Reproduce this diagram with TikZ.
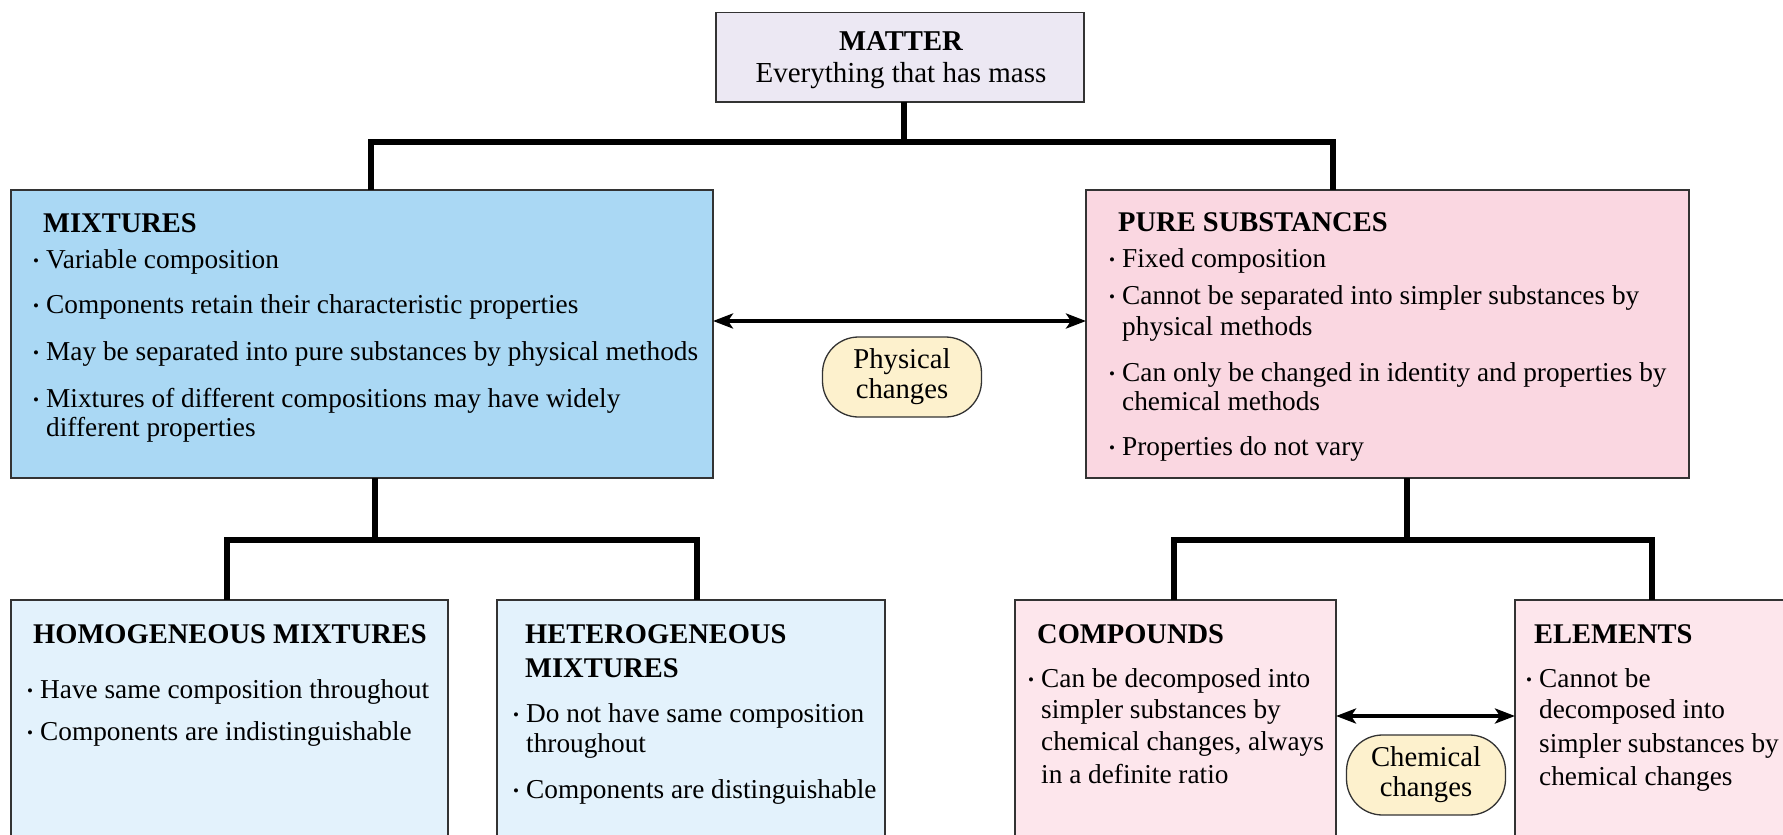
\documentclass[tikz,border=0pt]{standalone}
\usepackage{fontspec}
\setmainfont{Liberation Serif}
\usetikzlibrary{arrows.meta}
\definecolor{matterfill}{HTML}{ECE8F3}
\definecolor{mixfill}{HTML}{AAD8F4}
\definecolor{purefill}{HTML}{FAD7E1}
\definecolor{mixlight}{HTML}{E3F2FC}
\definecolor{purelight}{HTML}{FDE6EC}
\definecolor{ovalfill}{HTML}{FDF1CD}
\definecolor{boxborder}{HTML}{333333}
\tikzset{
  box/.style={draw=boxborder, line width=1.8pt, inner sep=0pt, outer sep=0pt},
  conn/.style={draw=black, line width=5.5pt, line join=miter},
  twoway/.style={draw=black, line width=4.5pt,
    {Stealth[length=20pt,width=15pt,inset=5pt]}-{Stealth[length=20pt,width=15pt,inset=5pt]}},
  oval/.style={draw=boxborder, line width=1.3pt, fill=ovalfill, rounded corners=36pt,
    minimum width=159pt, minimum height=80pt, align=center, inner sep=0pt,
    font=\fontsize{28.7}{30}\selectfont},
  txt/.style={inner sep=0pt, anchor=base west, font=\fontsize{27.3}{31}\selectfont},
  hd/.style={inner sep=0pt, anchor=base west, font=\fontsize{28.5}{32}\selectfont\bfseries},
}
\newcommand\bul{\makebox[13pt][l]{\fontsize{17}{17}\selectfont\raisebox{2pt}{•}}}
\newcommand\tl[4]{\node[txt] (#1) at (#2,#3) {#4};}
\newcommand\hl[4]{\node[hd] (#1) at (#2,#3) {#4};}
\begin{document}
\begin{tikzpicture}[x=1pt,y=-1pt]
\useasboundingbox (0,0) rectangle (1783,835);
\clip (0,0) rectangle (1783,835);

% boxes
\node[box, fill=matterfill, minimum width=368pt, minimum height=89.5pt] (matter) at (900,57.25) {};
\node[box, fill=mixfill, minimum width=702pt, minimum height=288pt] (mix) at (362,334) {};
\node[box, fill=purefill, minimum width=603pt, minimum height=288pt] (pure) at (1387.5,334) {};
\node[box, fill=mixlight, minimum width=437pt, minimum height=250pt] (homo) at (229.5,725) {};
\node[box, fill=mixlight, minimum width=388pt, minimum height=250pt] (hetero) at (691,725) {};
\node[box, fill=purelight, minimum width=321pt, minimum height=250pt] (comp) at (1175.5,725) {};
\node[box, fill=purelight, minimum width=285pt, minimum height=250pt] (elem) at (1657.5,725) {};

% tree connectors
\coordinate (tM) at (904,142);
\coordinate (tL) at (371,142);
\coordinate (tR) at (1333,142);
\draw[conn] (matter.south -| tM) -- (tM);
\draw[conn] (mix.north -| tL) -- (tL) -- (tR) -- (pure.north -| tR);
\coordinate (mM) at (375,540);
\coordinate (mL) at (227,540);
\coordinate (mR) at (697,540);
\draw[conn] (mix.south -| mM) -- (mM);
\draw[conn] (homo.north -| mL) -- (mL) -- (mR) -- (hetero.north -| mR);
\coordinate (pM) at (1407,540);
\coordinate (pL) at (1174,540);
\coordinate (pR) at (1652,540);
\draw[conn] (pure.south -| pM) -- (pM);
\draw[conn] (comp.north -| pL) -- (pL) -- (pR) -- (elem.north -| pR);

% two-way arrows
\coordinate (py) at (900,321);
\coordinate (cy) at (1426,716);
\draw[twoway] (py -| mix.east) -- (py -| pure.west);
\draw[twoway] (cy -| comp.east) -- (cy -| elem.west);

% change labels
\node[oval] (phys) at (902,377) {Physical\\changes};
\node[oval] (chem) at (1426,775) {Chemical\\changes};

% MATTER
\node[inner sep=0pt, anchor=base, font=\fontsize{28.7}{32}\selectfont\bfseries] (mt1) at (901,50) {MATTER};
\node[inner sep=0pt, anchor=base, font=\fontsize{29}{32}\selectfont] (mt2) at (901,82) {Everything that has mass};

% MIXTURES
\hl{mxh}{43}{232}{MIXTURES}
\tl{mx1}{33}{268}{\bul Variable composition}
\tl{mx2}{33}{313}{\bul Components retain their characteristic properties}
\tl{mx3}{33}{360}{\bul May be separated into pure substances by physical methods}
\tl{mx4}{33}{407}{\bul Mixtures of different compositions may have widely}
\tl{mx5}{46}{436}{different properties}

% PURE SUBSTANCES
\hl{psh}{1118}{231}{PURE SUBSTANCES}
\tl{ps1}{1109}{267}{\bul Fixed composition}
\tl{ps2}{1109}{304}{\bul Cannot be separated into simpler substances by}
\tl{ps3}{1122}{335}{physical methods}
\tl{ps4}{1109}{381}{\bul Can only be changed in identity and properties by}
\tl{ps5}{1122}{410}{chemical methods}
\tl{ps6}{1109}{455}{\bul Properties do not vary}

% HOMOGENEOUS
\hl{hoh}{33}{643}{HOMOGENEOUS MIXTURES}
\tl{ho1}{27}{698}{\bul Have same composition throughout}
\tl{ho2}{27}{740}{\bul Components are indistinguishable}

% HETEROGENEOUS
\hl{heh1}{525}{643}{HETEROGENEOUS}
\hl{heh2}{525}{677}{MIXTURES}
\tl{he1}{513}{722}{\bul Do not have same composition}
\tl{he2}{526}{752}{throughout}
\tl{he3}{513}{798}{\bul Components are distinguishable}

% COMPOUNDS
\hl{coh}{1037}{643}{COMPOUNDS}
\tl{co1}{1028}{687}{\bul Can be decomposed into}
\tl{co2}{1041}{718}{simpler substances by}
\tl{co3}{1041}{750}{chemical changes, always}
\tl{co4}{1041}{783}{in a definite ratio}

% ELEMENTS
\hl{elh}{1534}{643}{ELEMENTS}
\tl{el1}{1526}{687}{\bul Cannot be}
\tl{el2}{1539}{718}{decomposed into}
\tl{el3}{1539}{752}{simpler substances by}
\tl{el4}{1539}{785}{chemical changes}
\end{tikzpicture}
\end{document}
